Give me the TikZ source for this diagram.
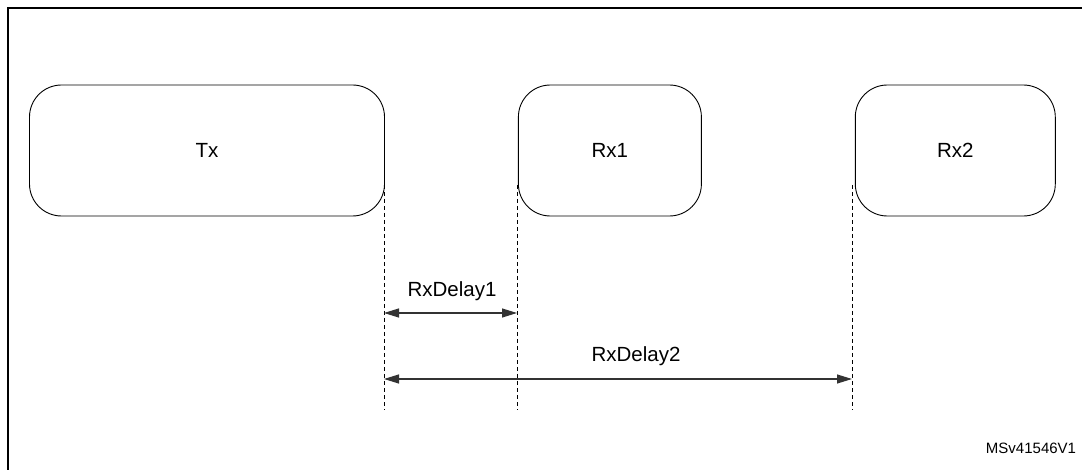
\documentclass[tikz,border=0pt]{standalone}
\usepackage{fontspec}
\setmainfont{Liberation Sans}
\usepackage{tikz}
\usetikzlibrary{arrows.meta,positioning}

\tikzset{
  window/.style={draw, line width=0.9pt, rounded corners=32pt, minimum height=131pt,
    font=\fontsize{20.5}{24}\selectfont, inner sep=0pt},
  guide/.style={dashed, dash pattern=on 4pt off 3pt, line width=0.8pt},
  delay/.style={{Triangle[length=15pt,width=9pt]}-{Triangle[length=15pt,width=9pt]}, line width=1.2pt, black!80},
  lbl/.style={font=\fontsize{20.5}{24}\selectfont, inner sep=0pt, anchor=base}
}

\begin{document}
\begin{tikzpicture}[x=1pt,y=1pt]
	\useasboundingbox (0,0) rectangle (1082,469);
	\clip (0,0) rectangle (1082,469);
	% frame
	\draw[line width=2pt] (8,-10) -- (8,461) -- (1100,461);
	% windows
	\node[window, minimum width=355pt] (tx) at (207,318.5) {Tx};
	\node[window, minimum width=183pt] (rx1) [right=133pt of tx] {Rx1};
	\node[window, minimum width=200pt] (rx2) [right=153pt of rx1] {Rx2};
	% guides
	\coordinate (txtop) at (384,284);   \coordinate (txbot) at (384,59);
	\coordinate (rx1top) at (517,284);  \coordinate (rx1bot) at (517,59);
	\coordinate (rx2top) at (852,284);  \coordinate (rx2bot) at (852,59);
	\draw[guide] (txtop) -- (txbot);
	\draw[guide] (rx1top) -- (rx1bot);
	\draw[guide] (rx2top) -- (rx2bot);
	% delays
	\coordinate (d1s) at (txtop |- 0,156);  \coordinate (d1e) at (rx1top |- 0,156);
	\coordinate (d2s) at (txtop |- 0,90);   \coordinate (d2e) at (rx2top |- 0,90);
	\draw[delay] (d1s) -- (d1e);
	\draw[delay] (d2s) -- (d2e);
	\node[lbl] (rxd1) at (452,172) {RxDelay1};
	\node[lbl] (rxd2) at (636,107) {RxDelay2};
	\node[font=\fontsize{15}{18}\selectfont, inner sep=0pt, anchor=base] (tag) at (1031,16) {MSv41546V1};
\end{tikzpicture}
\end{document}
